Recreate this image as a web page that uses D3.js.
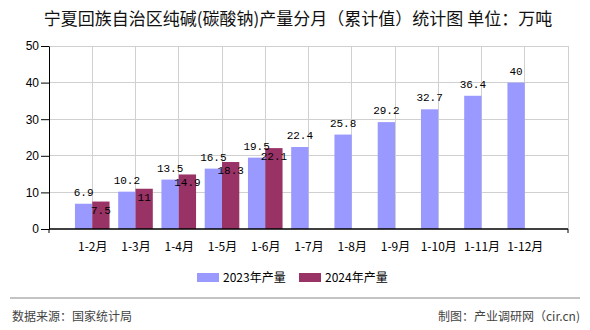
<!DOCTYPE html>
<html><head><meta charset="utf-8">
<script src="https://cdn.jsdelivr.net/npm/d3@7/dist/d3.min.js"></script>
<style>body{margin:0;background:#fff}svg{display:block}</style>
</head><body>
<svg id="c" width="590" height="330"></svg>
<script>
const categories = ["1-2月","1-3月","1-4月","1-5月","1-6月","1-7月","1-8月","1-9月","1-10月","1-11月","1-12月"];
const values2023 = [6.9,10.2,13.5,16.5,19.5,22.4,25.8,29.2,32.7,36.4,40];
const values2024 = [7.5,11,14.9,18.3,22.1];
const yTicks = [0,10,20,30,40,50];
const seriesNames = ["2023年产量","2024年产量"];
const colors = ["#9999FF","#993366"];
const title = "宁夏回族自治区纯碱(碳酸钠)产量分月（累计值）统计图 单位：万吨";

const svg = d3.select("#c");
const cjk = "'Noto Sans CJK SC','Noto Sans',sans-serif";
const L = 49, R = 568, T = 46, B = 229;
const x = d3.scalePoint().domain(categories).range([L, R]).padding(1);
const y = d3.scaleLinear().domain([0, 50]).range([B, T]);
const bw = x.step() * 0.4;

svg.append("text").attr("x", 298).attr("y", 25).attr("text-anchor", "middle")
  .style("font-family", cjk).style("font-size", "17px").attr("fill", "#111").text(title);

// grid
const g = svg.append("g");
g.selectAll(".hg").data(yTicks.filter(d => d > 0)).join("line")
  .attr("x1", L).attr("x2", R).attr("y1", d => y(d)).attr("y2", d => y(d))
  .attr("stroke", "#d0d0d0").attr("stroke-width", 1).attr("shape-rendering", "crispEdges");
g.selectAll(".vg").data(categories).join("line")
  .attr("x1", d => x(d)).attr("x2", d => x(d)).attr("y1", T).attr("y2", B)
  .attr("stroke", "#d0d0d0").attr("shape-rendering", "crispEdges");
g.append("line").attr("x1", R).attr("x2", R).attr("y1", T).attr("y2", B)
  .attr("stroke", "#d0d0d0").attr("shape-rendering", "crispEdges");

// bars
svg.selectAll(".b23").data(values2023).join("rect")
  .attr("x", (d, i) => x(categories[i]) - bw).attr("y", d => y(d))
  .attr("width", bw).attr("height", d => B - y(d)).attr("fill", colors[0]);
svg.selectAll(".b24").data(values2024).join("rect")
  .attr("x", (d, i) => x(categories[i])).attr("y", d => y(d))
  .attr("width", bw).attr("height", d => B - y(d)).attr("fill", colors[1]);

const lf = "'Liberation Mono','DejaVu Sans Mono',monospace";
svg.selectAll(".l23").data(values2023).join("text")
  .attr("x", (d, i) => x(categories[i]) - bw / 2).attr("y", d => y(d) - 8)
  .attr("text-anchor", "middle").style("font-family", lf).style("font-size", "11px")
  .attr("fill", "#000").text(d => d);
svg.selectAll(".l24").data(values2024).join("text")
  .attr("x", (d, i) => x(categories[i]) + bw / 2).attr("y", d => y(d) + 12)
  .attr("text-anchor", "middle").style("font-family", lf).style("font-size", "11px")
  .attr("fill", "#000").text(d => d);

// y axis
const ya = svg.append("g").attr("transform", `translate(${L},0)`)
  .call(d3.axisLeft(y).tickValues(yTicks).tickSize(8).tickSizeOuter(0));
ya.select(".domain").attr("stroke", "#000");
ya.selectAll("line").attr("stroke", "#000");
ya.selectAll("text").style("font-family", "'Liberation Sans',sans-serif").style("font-size", "12px").attr("fill", "#000").attr("x", -10);

// x axis
const xa = svg.append("g").attr("transform", `translate(0,${B})`)
  .call(d3.axisBottom(x).tickSize(0).tickPadding(13));
xa.select(".domain").remove();
xa.append("line").attr("x1", L).attr("x2", R).attr("stroke", "#000").attr("stroke-width", 1.5);
xa.selectAll(".endtick").data([L, R]).join("line").attr("x1", d => d).attr("x2", d => d)
  .attr("y1", 0).attr("y2", 4).attr("stroke", "#000");
xa.selectAll(".tick text").style("font-family", cjk).style("font-size", "12px").attr("fill", "#000");

// legend
const lg = svg.append("g");
const lx = [197, 299];
seriesNames.forEach((n, i) => {
  lg.append("rect").attr("x", lx[i]).attr("y", 273).attr("width", 22).attr("height", 9).attr("fill", colors[i]);
  lg.append("text").attr("x", lx[i] + 26).attr("y", 282).style("font-family", cjk).style("font-size", "12px")
    .attr("fill", "#000").text(n);
});

// footer
svg.append("line").attr("x1", 10).attr("x2", 580).attr("y1", 298).attr("y2", 298).attr("stroke", "#888").attr("stroke-width", 1.2);
svg.append("text").attr("x", 12).attr("y", 321).style("font-family", cjk).style("font-size", "12px").attr("fill", "#444").text("数据来源：国家统计局");
svg.append("text").attr("x", 580).attr("y", 321).attr("text-anchor", "end").style("font-family", cjk).style("font-size", "12px").attr("fill", "#444").text("制图：产业调研网（cir.cn)");
</script>
</body></html>
